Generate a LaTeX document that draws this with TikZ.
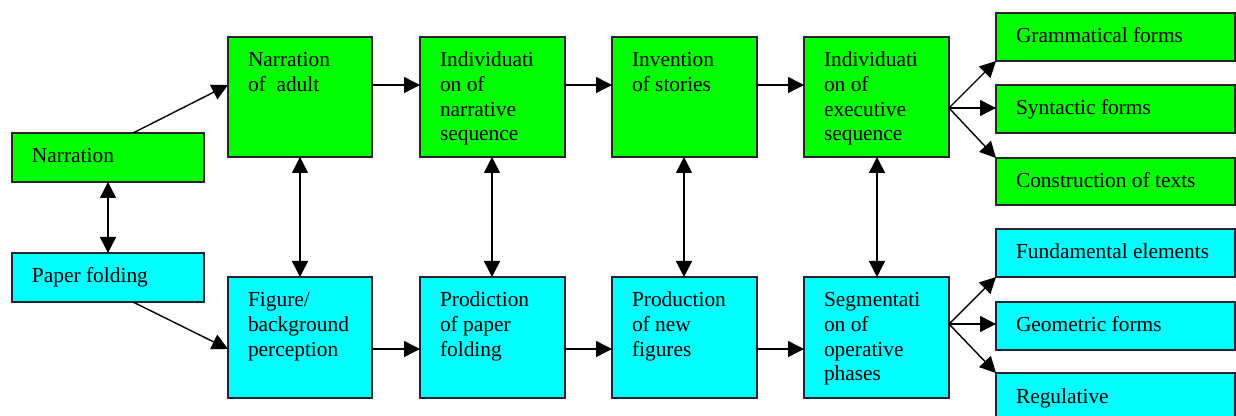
\documentclass[tikz,border=0pt]{standalone}
\usepackage{fontspec}
\setmainfont{Liberation Serif}
\usetikzlibrary{arrows.meta}
\definecolor{gbox}{RGB}{0,255,0}
\definecolor{cbox}{RGB}{0,255,255}
\tikzset{
  box/.style={draw=black!85, line width=0.65pt, anchor=north west, inner sep=0pt, outer sep=0pt},
  txt/.style={anchor=base west, inner sep=0pt, outer sep=0pt},
  arr/.style={line width=0.7pt, -{Triangle[length=8pt,width=8pt]}},
  darr/.style={line width=0.7pt, {Triangle[length=8pt,width=8pt]}-{Triangle[length=8pt,width=8pt]}},
}
% \bx{name}{x}{y}{w}{h}{fill}{text}   (pixel units, y downward)
\newcommand{\bx}[7]{%
  \node[box, fill=#6, minimum width=#4*0.5pt, minimum height=#5*0.5pt] (#1) at (#2,#3) {};
  \node[txt] (#1t) at ([xshift=10pt, yshift=-15pt]#1.north west)
    {\parbox[t]{\dimexpr #4pt/2\relax}{\fontsize{10.7pt}{12.3pt}\selectfont #7}};
}
\begin{document}
\begin{tikzpicture}[x=0.5pt, y=-0.5pt]
\useasboundingbox (0,0) rectangle (1236,416);
\clip (0,0) rectangle (1236,416);
% top row
\bx{nar}{12}{133}{192}{49}{gbox}{Narration}
\bx{nad}{228}{37}{144}{120}{gbox}{Narration\\of\ \ adult}
\bx{ins}{420}{37}{145}{120}{gbox}{Individuati\\on of\\narrative\\sequence}
\bx{inv}{612}{37}{145}{120}{gbox}{Invention\\of stories}
\bx{iex}{804}{37}{145}{120}{gbox}{Individuati\\on of\\executive\\sequence}
\bx{gra}{996}{13}{239}{48}{gbox}{Grammatical forms}
\bx{syn}{996}{85}{239}{48}{gbox}{Syntactic forms}
\bx{con}{996}{158}{239}{47}{gbox}{Construction of texts}
% bottom row
\bx{pap}{12}{253}{192}{49}{cbox}{Paper folding}
\bx{fig}{228}{277}{144}{121}{cbox}{Figure/\\background\\perception}
\bx{pro}{420}{277}{145}{121}{cbox}{Prodiction\\of paper\\folding}
\bx{pnf}{612}{277}{145}{121}{cbox}{Production\\of new\\figures}
\bx{seg}{804}{277}{145}{121}{cbox}{Segmentati\\on of\\operative\\phases}
\bx{fun}{996}{229}{239}{48}{cbox}{Fundamental elements}
\bx{geo}{996}{302}{239}{48}{cbox}{Geometric forms}
\bx{reg}{996}{373}{239}{60}{cbox}{Regulative}
% coordinates for connector ends
\coordinate (narT) at ([xshift=12.5pt]nar.north);
\coordinate (papB) at ([xshift=12.5pt]pap.south);
\coordinate (nadL) at ([yshift=-24pt]nad.north west);
\coordinate (figL) at ([yshift=-36pt]fig.north west);
% diagonal arrows from left boxes
\draw[arr] (narT) -- (nadL);
\draw[arr] (papB) -- (figL);
% top row horizontal
\draw[arr] (nadL -| nad.east) -- (nadL -| ins.west);
\draw[arr] (nadL -| ins.east) -- (nadL -| inv.west);
\draw[arr] (nadL -| inv.east) -- (nadL -| iex.west);
% bottom row horizontal
\draw[arr] (figL -| fig.east) -- (figL -| pro.west);
\draw[arr] (figL -| pro.east) -- (figL -| pnf.west);
\draw[arr] (figL -| pnf.east) -- (figL -| seg.west);
% vertical double arrows
\draw[darr] (nar.south) -- (nar.south |- pap.north);
\coordinate (v1) at (300,0);
\coordinate (v2) at (492,0);
\coordinate (v3) at (684,0);
\coordinate (v4) at (877,0);
\draw[darr] (v1 |- nad.south) -- (v1 |- fig.north);
\draw[darr] (v2 |- ins.south) -- (v2 |- pro.north);
\draw[darr] (v3 |- inv.south) -- (v3 |- pnf.north);
\draw[darr] (v4 |- iex.south) -- (v4 |- seg.north);
% fans
\coordinate (fa) at (949,108);
\draw[arr] (fa) -- (gra.south west);
\draw[arr] (fa) -- (fa -| syn.west);
\draw[arr] (fa) -- (con.north west);
\coordinate (fb) at (949,324);
\draw[arr] (fb) -- (fun.south west);
\draw[arr] (fb) -- (fb -| geo.west);
\draw[arr] (fb) -- (reg.north west);
\end{tikzpicture}
\end{document}
